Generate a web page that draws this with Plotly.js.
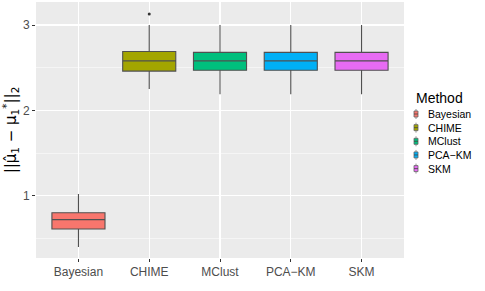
<!DOCTYPE html>
<html>
<head>
<meta charset="utf-8">
<script src="https://cdn.plot.ly/plotly-3.0.1.min.js"></script>
<style>html,body{margin:0;padding:0;background:#fff}#chart{width:485px;height:291px}</style>
</head>
<body>
<div id="chart"></div>
<script>
var methods = ['Bayesian', 'CHIME', 'MClust', 'PCA\u2212KM', 'SKM'];
var colors = ['#F8766D', '#A3A500', '#00BF7D', '#00B0F6', '#E76BF3'];
var lowerFence = [0.40, 2.25, 2.19, 2.19, 2.19];
var q1Vals = [0.61, 2.46, 2.47, 2.47, 2.47];
var medianVals = [0.72, 2.58, 2.58, 2.58, 2.58];
var q3Vals = [0.80, 2.69, 2.68, 2.68, 2.68];
var upperFence = [1.02, 3.00, 3.00, 3.00, 3.00];
var outlierMethods = ['CHIME'];
var outlierValues = [3.13];

var W = 485, H = 291;
var mL = 36, mR = 81, mT = 2, mB = 33;
var pw = W - mL - mR, ph = H - mT - mB;
function px(x) { return (x - mL) / pw; }
function py(y) { return (H - mB - y) / ph; }

var traces = methods.map(function (m, i) {
  return {
    type: 'box',
    name: m,
    x: [m],
    lowerfence: [lowerFence[i]],
    q1: [q1Vals[i]],
    median: [medianVals[i]],
    q3: [q3Vals[i]],
    upperfence: [upperFence[i]],
    width: 0.75,
    whiskerwidth: 0,
    fillcolor: colors[i],
    line: { color: '#505050', width: 1.1 },
    boxpoints: false,
    showlegend: false,
    hoverinfo: 'skip'
  };
});
traces.push({
  type: 'scatter',
  mode: 'markers',
  x: outlierMethods,
  y: outlierValues,
  marker: { color: '#333333', size: 3 },
  showlegend: false,
  hoverinfo: 'skip'
});

var legendFont = 10.5;
var lineStep = legendFont * 1.3;
var midY = 141.3;
var shapes = [];
var annotations = [];
annotations.push({
  xref: 'paper', yref: 'paper', x: px(414), y: py(98), xanchor: 'left', yanchor: 'middle',
  text: 'Method', showarrow: false, font: { size: 14, color: '#000' }
});
methods.forEach(function (m, i) {
  var cy = midY + (i - (methods.length - 1) / 2) * lineStep;
  shapes.push({ type: 'line', xref: 'paper', yref: 'paper', x0: px(416), x1: px(416), y0: py(cy - 5), y1: py(cy + 5), line: { color: '#777', width: 0.8 } });
  shapes.push({ type: 'rect', xref: 'paper', yref: 'paper', x0: px(414), x1: px(418), y0: py(cy - 3), y1: py(cy + 3), fillcolor: colors[i], line: { color: '#666', width: 0.8 } });
  shapes.push({ type: 'line', xref: 'paper', yref: 'paper', x0: px(414), x1: px(418), y0: py(cy), y1: py(cy), line: { color: '#444', width: 0.8 } });
});
annotations.push({
  xref: 'paper', yref: 'paper', x: px(427), y: py(midY), xanchor: 'left', yanchor: 'middle',
  align: 'left', text: methods.join('<br>'), showarrow: false, borderpad: 0,
  font: { size: legendFont, color: '#000' }
});

var layout = {
  width: W, height: H,
  margin: { l: mL, r: mR, t: mT, b: mB, pad: 0 },
  paper_bgcolor: '#ffffff',
  plot_bgcolor: '#EBEBEB',
  font: { family: 'Liberation Sans, Arial, sans-serif', size: 12, color: '#4D4D4D' },
  showlegend: false,
  boxmode: 'overlay',
  xaxis: {
    type: 'category',
    categoryorder: 'array',
    categoryarray: methods,
    range: [-0.6, 4.6],
    showgrid: true, gridcolor: '#FFFFFF', gridwidth: 1.1,
    zeroline: false, showline: false,
    ticks: 'outside', ticklen: 3, tickcolor: '#333333', tickwidth: 1,
    tickfont: { size: 12, color: '#4D4D4D' },
    fixedrange: true
  },
  yaxis: {
    range: [0.27, 3.27],
    tick0: 0, dtick: 1,
    showgrid: true, gridcolor: '#FFFFFF', gridwidth: 1.1,
    minor: { dtick: 0.5, tick0: 0, showgrid: true, gridcolor: '#FFFFFF', gridwidth: 0.5, ticks: '' },
    zeroline: false, showline: false,
    ticks: 'outside', ticklen: 3, tickcolor: '#333333', tickwidth: 1,
    tickfont: { size: 12, color: '#4D4D4D' },
    title: { text: '||\u03BC\u0302<sub>1</sub> \u2212 \u03BC<sub>1</sub><sup>*</sup>||<sub>2</sub>', font: { family: 'DejaVu Sans, sans-serif', size: 15, color: '#000' }, standoff: 6 },
    fixedrange: true
  },
  shapes: shapes,
  annotations: annotations
};

Plotly.newPlot('chart', traces, layout, { displayModeBar: false, staticPlot: true });
</script>
</body>
</html>
